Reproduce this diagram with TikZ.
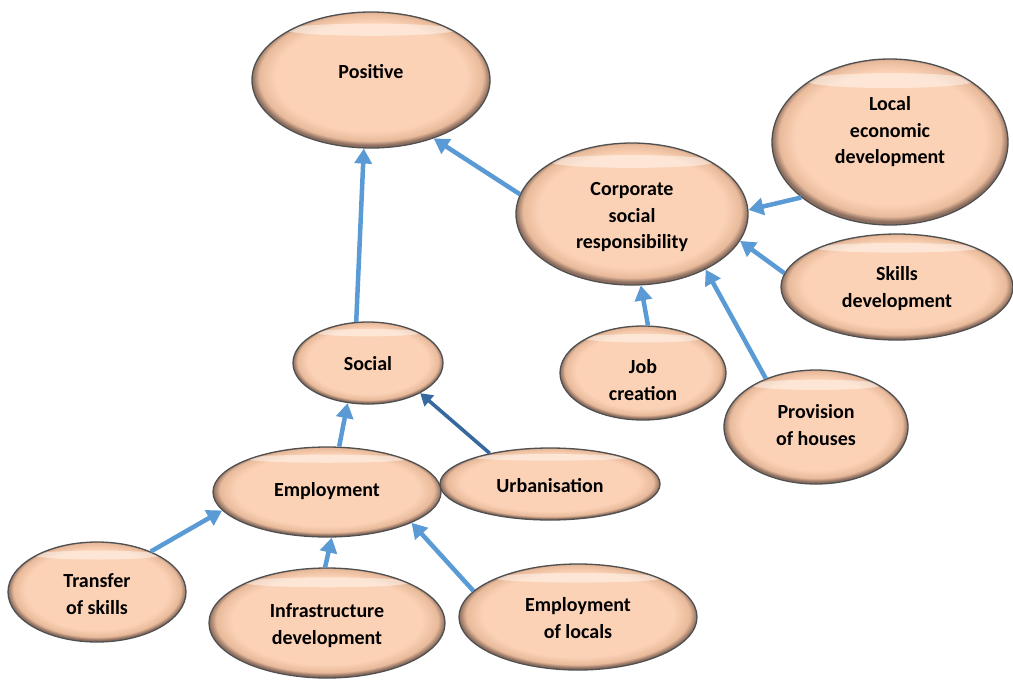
\documentclass[tikz,border=0pt]{standalone}
\usepackage{fontspec}
\setmainfont{Carlito}
\usetikzlibrary{shapes.geometric,arrows.meta,calc}
\definecolor{peach}{RGB}{252,210,182}
\definecolor{peachdark}{RGB}{232,186,155}
\definecolor{rimbrown}{RGB}{140,110,95}
\definecolor{rimgray}{RGB}{80,80,80}
\definecolor{arrowblue}{RGB}{91,155,213}
\definecolor{arrowdark}{RGB}{55,105,160}
\pgfdeclareradialshading{bubbleshade}{\pgfpoint{0bp}{2bp}}{color(0bp)=(peach); color(20bp)=(peach); color(23.5bp)=(peachdark); color(25bp)=(rimbrown); color(50bp)=(rimbrown)}
\newcommand{\btext}[2]{\smash{\raisebox{\dimexpr#1-3pt\relax}{\begin{tabular}{@{}c@{}}#2\end{tabular}}}}
\tikzset{
  bubble/.style={ellipse, draw=rimgray, line width=1.3pt, shading=bubbleshade,
    inner sep=0pt, align=center, font=\fontsize{20}{26.5}\selectfont\bfseries,
    path picture={\path let \p1=(path picture bounding box.north east),
      \p2=(path picture bounding box.south west) in
      [fill=white, opacity=0.45]
      ($(path picture bounding box.north)+(0pt,{-0.13*(\y1-\y2)})$)
      ellipse [x radius={0.36*(\x1-\x2)}, y radius={0.045*(\y1-\y2)}];}},
  link/.style={line width=4.5pt, draw=arrowblue, -{Triangle[width=17pt,length=15pt]}},
  darklink/.style={line width=3.6pt, draw=arrowdark, -{Triangle[width=14pt,length=12pt]}}
}
\begin{document}
\begin{tikzpicture}[x=1pt,y=-1pt]
\useasboundingbox[fill=white] (0,0) rectangle (1013,681);
\node[bubble, minimum width=238pt, minimum height=136pt] (pos) at (371,80) {\btext{5pt}{Positive}};
\node[bubble, minimum width=232pt, minimum height=142pt] (csr) at (632,214) {\btext{-5pt}{Corporate\\social\\responsibility}};
\node[bubble, minimum width=236pt, minimum height=166pt] (led) at (890,142) {\btext{8pt}{Local\\economic\\development}};
\node[bubble, minimum width=232pt, minimum height=106pt] (skd) at (897,287) {\btext{-4pt}{Skills\\development}};
\node[bubble, minimum width=166pt, minimum height=94pt] (job) at (643,373) {\btext{-11pt}{Job\\creation}};
\node[bubble, minimum width=184pt, minimum height=114pt] (prv) at (816,427) {\btext{-2pt}{Provision\\of houses}};
\node[bubble, minimum width=150pt, minimum height=82pt] (soc) at (368,363) {\btext{-4pt}{Social}};
\node[bubble, minimum width=220pt, minimum height=72pt] (urb) at (550,484) {\btext{-5pt}{Urbanisation}};
\node[bubble, minimum width=228pt, minimum height=90pt] (emp) at (327,492) {\btext{-1pt}{Employment}};
\node[bubble, minimum width=178pt, minimum height=100pt] (tsk) at (97,592) {\btext{-6pt}{Transfer\\of skills}};
\node[bubble, minimum width=236pt, minimum height=110pt] (inf) at (327,623) {\btext{-5pt}{Infrastructure\\development}};
\node[bubble, minimum width=238pt, minimum height=106pt] (eol) at (578,617) {\btext{-5pt}{Employment\\of locals}};
\draw[link] (soc.106) -- (pos.264);
\draw[link] (csr.170) -- (pos.317);
\draw[link] (led.212) -- (csr.2);
\draw[link] (skd.173) -- (csr.346);
\draw[link] (job.84) -- (csr.277);
\draw[link] (prv.136) -- (csr.323);
\draw[link] (emp.75) -- (soc.243);
\draw[darklink] (urb.153) -- (soc.330);
\draw[link] (tsk.37) -- (emp.190);
\draw[link] (inf.92) -- (emp.276);
\draw[link] (eol.166) -- (emp.340);
\end{tikzpicture}
\end{document}
